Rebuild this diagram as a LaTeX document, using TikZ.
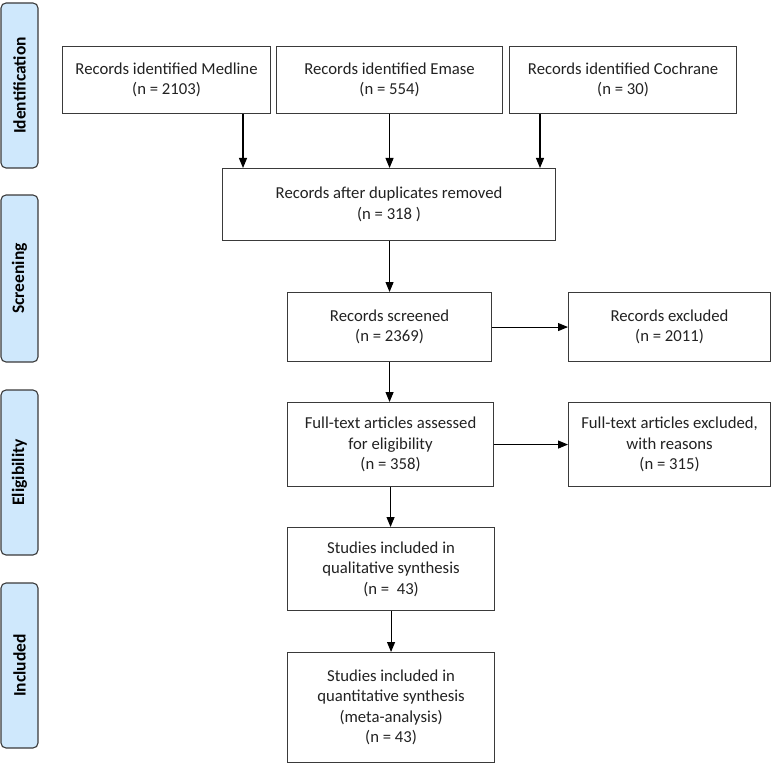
\documentclass[tikz,border=0pt]{standalone}
\usepackage{fontspec}
\setmainfont{Carlito}
\usetikzlibrary{arrows.meta}
\definecolor{boxline}{HTML}{3A3A3A}
\definecolor{sidefill}{HTML}{CFE8FC}
\definecolor{txt}{HTML}{222222}
\tikzset{
  flowbox/.style={draw=boxline, line width=1.1pt, fill=white, inner sep=0pt, anchor=north west,
    align=center, text=txt, font=\fontsize{16.7}{20.5}\selectfont},
  sidebox/.style={draw=boxline, line width=1.1pt, fill=sidefill, rounded corners=5pt, inner sep=0pt,
    rotate=90, minimum height=37pt, text=black, font=\fontsize{17.5}{20}\selectfont\bfseries},
  arr/.style={draw=black, line width=1.1pt, -{Triangle[length=10pt,width=8pt]}}
}
\begin{document}
\begin{tikzpicture}[x=1pt,y=-1pt]
\useasboundingbox (0,0) rectangle (779,765);
% side labels
\node[sidebox, minimum width=165pt] (sid) at (19.5,85.5) {Identification};
\node[sidebox, minimum width=167pt] (sscr) at (19.5,278.5) {Screening};
\node[sidebox, minimum width=165pt] (sel) at (19.5,472.5) {Eligibility};
\node[sidebox, minimum width=165pt] (sinc) at (19.5,665.5) {Included};
% boxes
\node[flowbox, minimum width=208pt, minimum height=67pt] (med) at (62,46) {Records identified Medline\\(n = 2103)};
\node[flowbox, minimum width=226pt, minimum height=67pt] (ema) at (276,46) {Records identified Emase\\(n = 554)};
\node[flowbox, minimum width=227pt, minimum height=67pt] (coc) at (509,46) {Records identified Cochrane\\(n = 30)};
\node[flowbox, minimum width=333pt, minimum height=72pt] (dup) at (222,168) {Records after duplicates removed\\(n = 318 )};
\node[flowbox, minimum width=204pt, minimum height=69pt] (scr) at (287,292) {Records screened\\(n = 2369)};
\node[flowbox, minimum width=202pt, minimum height=69pt] (exc) at (568,292) {Records excluded\\(n = 2011)};
\node[flowbox, minimum width=206pt, minimum height=84pt] (ful) at (287,402) {Full-text articles assessed\\for eligibility\\(n = 358)};
\node[flowbox, minimum width=202pt, minimum height=84pt] (fex) at (568,402) {Full-text articles excluded,\\with reasons\\(n = 315)};
\node[flowbox, minimum width=207pt, minimum height=83pt] (qual) at (287,527) {Studies included in\\qualitative synthesis\\(n =\ \ 43)};
\node[flowbox, minimum width=207pt, minimum height=110pt] (quan) at (287,652) {Studies included in\\quantitative synthesis\\(meta-analysis)\\(n = 43)};
% connectors
\coordinate (ma) at (243,0);
\coordinate (ca) at (540,0);
\draw[arr] (ma |- med.south) -- (ma |- dup.north);
\draw[arr] (ema.south) -- (ema.south |- dup.north);
\draw[arr] (ca |- coc.south) -- (ca |- dup.north);
\draw[arr] (scr.north |- dup.south) -- (scr.north);
\draw[arr] (scr.east) -- (exc.west);
\draw[arr] (scr.south) -- (scr.south |- ful.north);
\draw[arr] (ful.east) -- (fex.west);
\draw[arr] (ful.south) -- (ful.south |- qual.north);
\draw[arr] (qual.south) -- (qual.south |- quan.north);
\end{tikzpicture}
\end{document}
